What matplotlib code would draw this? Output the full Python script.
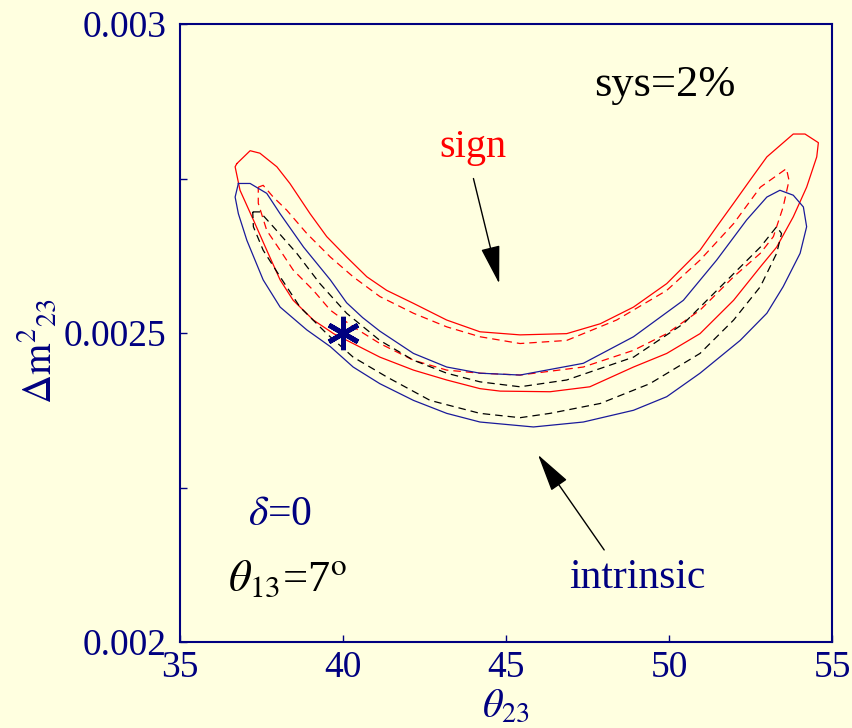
import matplotlib
matplotlib.use('Agg')
import matplotlib.pyplot as plt
import numpy as np

plt.rcParams['font.family'] = ['Liberation Serif', 'DejaVu Serif']
plt.rcParams['mathtext.fontset'] = 'stix'

# contours in (theta23 [deg], dm2_23 [1e-3 eV^2])
sign_x = [36.74, 37.15, 37.45, 37.97, 38.37, 38.99, 39.50, 40.11, 40.73, 41.34, 42.16, 43.18,
          44.20, 45.43, 46.86, 47.89, 48.91, 49.93, 50.95, 51.46, 51.98, 52.48, 53.00, 53.81,
          54.17, 54.58, 54.53, 54.22, 53.81, 53.30, 52.80, 51.98, 50.95, 49.93, 48.91, 47.57,
          46.35, 44.82, 44.20, 43.18, 42.16, 41.13, 40.31, 39.71, 39.09, 38.47, 38.07, 37.66,
          37.25, 36.84, 36.69]
sign_y = [2.774, 2.795, 2.791, 2.769, 2.742, 2.693, 2.656, 2.623, 2.591, 2.569, 2.548, 2.521,
          2.502, 2.497, 2.499, 2.515, 2.542, 2.580, 2.634, 2.672, 2.710, 2.747, 2.785, 2.822,
          2.822, 2.808, 2.785, 2.736, 2.688, 2.639, 2.607, 2.553, 2.499, 2.467, 2.445, 2.413,
          2.405, 2.406, 2.410, 2.424, 2.440, 2.461, 2.483, 2.499, 2.521, 2.553, 2.586, 2.634,
          2.683, 2.731, 2.769]

sign_nosys_x = [37.40, 37.55, 37.86, 38.27, 38.89, 39.61, 40.31, 41.13, 42.16, 43.18, 44.20,
                45.43, 46.86, 48.39, 49.93, 50.95, 51.98, 52.80, 53.60, 53.68, 53.50, 53.20,
                52.80, 51.98, 50.95, 49.93, 48.91, 47.37, 45.43, 44.20, 43.18, 42.16, 41.13,
                40.31, 39.61, 39.09, 38.47, 38.07, 37.66, 37.40]
sign_nosys_y = [2.736, 2.739, 2.720, 2.699, 2.661, 2.623, 2.591, 2.559, 2.532, 2.510, 2.494,
                2.483, 2.488, 2.521, 2.569, 2.618, 2.677, 2.736, 2.766, 2.747, 2.704, 2.656,
                2.629, 2.591, 2.537, 2.499, 2.472, 2.445, 2.432, 2.435, 2.440, 2.456, 2.483,
                2.510, 2.537, 2.569, 2.602, 2.634, 2.666, 2.710]

intr_x = [36.79, 37.15, 37.66, 38.07, 38.79, 39.61, 40.11, 40.60, 41.13, 42.16, 43.18, 44.20,
          45.43, 47.37, 48.91, 50.44, 51.46, 52.38, 53.00, 53.40, 53.81, 54.12, 54.22, 54.02,
          53.50, 53.00, 52.18, 50.95, 49.93, 48.91, 47.37, 45.84, 44.20, 43.18, 42.16, 41.13,
          40.31, 39.61, 38.89, 38.07, 37.55, 37.05, 36.79, 36.69]
intr_y = [2.742, 2.742, 2.726, 2.693, 2.639, 2.586, 2.549, 2.525, 2.503, 2.467, 2.445, 2.435,
          2.432, 2.451, 2.494, 2.553, 2.618, 2.683, 2.720, 2.731, 2.723, 2.704, 2.672, 2.629,
          2.575, 2.532, 2.488, 2.435, 2.397, 2.375, 2.356, 2.348, 2.356, 2.370, 2.391, 2.418,
          2.445, 2.478, 2.505, 2.542, 2.586, 2.650, 2.693, 2.720]

intr_nosys_x = [37.23, 37.45, 37.86, 38.58, 39.29, 40.11, 41.13, 42.16, 43.18, 44.20, 45.43,
                46.86, 48.91, 50.44, 51.98, 52.80, 53.30, 53.45, 53.30, 52.80, 51.98, 50.95,
                49.41, 47.89, 46.35, 45.43, 44.20, 42.67, 41.34, 40.31, 39.50, 38.68, 38.07,
                37.55, 37.25]
intr_nosys_y = [2.696, 2.696, 2.672, 2.629, 2.580, 2.532, 2.488, 2.456, 2.435, 2.421, 2.413,
                2.424, 2.461, 2.515, 2.596, 2.639, 2.672, 2.661, 2.629, 2.575, 2.521, 2.467,
                2.418, 2.386, 2.370, 2.363, 2.370, 2.391, 2.429, 2.461, 2.499, 2.542, 2.591,
                2.634, 2.672]

best_fit = (40.0, 2.5)

x_ticks = [35, 40, 45, 50, 55]
y_ticks = [0.002, 0.00225, 0.0025, 0.00275, 0.003]
y_ticklabels = ['0.002', '', '0.0025', '', '0.003']

navy = '#000080'
bg = '#FFFFE0'


def closed(x, y):
    x = np.append(x, x[0])
    y = np.append(y, y[0]) * 1e-3
    return x, y


fig = plt.figure(figsize=(8.52, 7.28), dpi=100, facecolor=bg)
ax = fig.add_axes([0.2113, 0.1181, 0.7653, 0.8489], facecolor=bg)

ax.plot(*closed(sign_x, sign_y), color='red', lw=0.9)
ax.plot(*closed(sign_nosys_x, sign_nosys_y), color='red', lw=0.9, ls=(0, (6, 4)))
ax.plot(*closed(intr_x, intr_y), color='#1a1a9a', lw=0.9)
ax.plot(*closed(intr_nosys_x, intr_nosys_y), color='black', lw=0.9, ls=(0, (6, 4)))

ax.plot(best_fit[0], best_fit[1] * 1e-3, marker=(6, 2, 0), color=navy, ms=24, mew=3.5)

ax.set_xlim(35, 55)
ax.set_ylim(0.002, 0.003)
ax.set_xticks(x_ticks)
ax.set_yticks(y_ticks)
ax.set_yticklabels(y_ticklabels)
ax.tick_params(direction='in', length=5, width=1, colors=navy, labelsize=27,
               top=False, right=False)
ax.tick_params(axis='x', pad=6)
ax.tick_params(axis='y', pad=10)
for sp in ax.spines.values():
    sp.set_color(navy)
    sp.set_linewidth(1.5)

ax.set_xlabel(r'$\theta_{23}$', fontsize=29, color=navy)
ax.xaxis.set_label_coords(0.5, -0.075)
ax.set_ylabel(r'$\Delta\mathrm{m}^{2}{}_{23}$', fontsize=29, color=navy)
ax.yaxis.set_label_coords(-0.184, 0.47)

ax.text(49.88, 0.002901, 'sys=2%', fontsize=32, color='black', ha='center', va='center')
ax.text(43.99, 0.002801, 'sign', fontsize=29, color='red', ha='center', va='center')
ax.text(49.02, 0.002104, 'intrinsic', fontsize=30, color=navy, ha='center', va='center')
ax.text(38.07, 0.002206, r'$\delta$=0', fontsize=30, color=navy, ha='center', va='center')
ax.text(38.31, 0.002100, r'$\theta_{13}$=7$^{\rm o}$', fontsize=32, color='black',
        ha='center', va='center')

arrow = dict(arrowstyle='-|>,head_length=2.4,head_width=0.6', mutation_scale=10,
             lw=1, color='black', shrinkA=0, shrinkB=0)
ax.annotate('', xy=(44.79, 0.002580), xytext=(44.0, 0.002750), arrowprops=arrow)
ax.annotate('', xy=(45.98, 0.002303), xytext=(48.01, 0.002149), arrowprops=arrow)

fig.savefig('out.png', dpi=100, facecolor=bg)
